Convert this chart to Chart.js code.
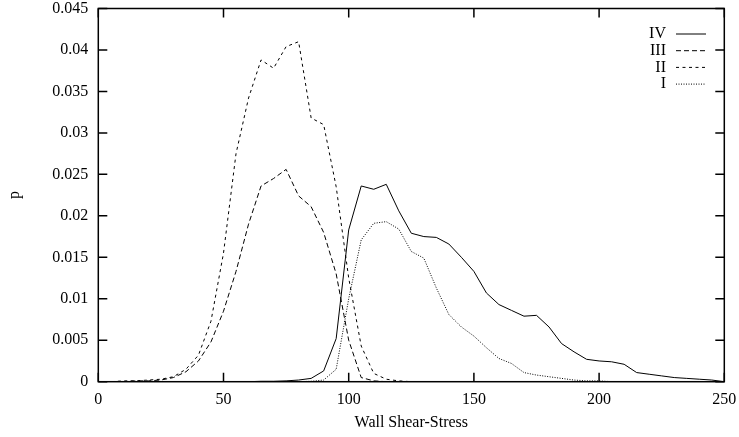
<!DOCTYPE html>
<html>
<head>
<meta charset="utf-8">
<script src="https://cdn.jsdelivr.net/npm/chart.js@4"></script>
<style>
  html, body { margin: 0; padding: 0; background: #fff; }
  #wrap { width: 739px; height: 437px; }
</style>
</head>
<body>
<div id="wrap"><canvas id="wssChart"></canvas></div>
<script>
// wall shear-stress bins
const stress = [0, 5, 10, 15, 20, 25, 30, 35, 40, 45, 50, 55, 60, 65, 70, 75, 80, 85, 90, 95,
  100, 105, 110, 115, 120, 125, 130, 135, 140, 145, 150, 155, 160, 165, 170, 175, 180, 185, 190, 195,
  200, 205, 210, 215, 220, 225, 230, 235, 240, 245, 250]

const seriesIV = [0, 0, 0, 0, 0, 0, 0, 0, 0, 0, 0, 0, 0, 0.00005, 0.00005, 0.0001, 0.0002, 0.0004, 0.0013, 0.0052,
  0.0183, 0.0236, 0.0232, 0.0238, 0.0206, 0.0179, 0.0175, 0.0174, 0.0166, 0.015, 0.0133, 0.0107, 0.0093, 0.0086, 0.0079, 0.008, 0.0066, 0.0046, 0.0036, 0.0027,
  0.0025, 0.0024, 0.0021, 0.0011, 0.0009, 0.0007, 0.0005, 0.0004, 0.0003, 0.0002, 0]

const seriesIII = [0, 0, 0, 0.0001, 0.0001, 0.0002, 0.0005, 0.0012, 0.0025, 0.0048, 0.0085, 0.0133, 0.019, 0.0236, 0.0245, 0.0256, 0.0224, 0.0211, 0.018, 0.013,
  0.005, 0.0005, 0.0001, 0, 0, 0, 0, 0, 0, 0, 0, 0, 0, 0, 0, 0, 0, 0, 0, 0,
  0, 0, 0, 0, 0, 0, 0, 0, 0, 0, 0]

const seriesII = [0, 0, 0.0001, 0.0001, 0.0002, 0.0003, 0.0006, 0.0015, 0.0032, 0.0073, 0.0155, 0.0275, 0.0342, 0.0388, 0.0378, 0.0404, 0.041, 0.0318, 0.031, 0.0235,
  0.0125, 0.0043, 0.001, 0.0003, 0.0001, 0, 0, 0, 0, 0, 0, 0, 0, 0, 0, 0, 0, 0, 0, 0,
  0, 0, 0, 0, 0, 0, 0, 0, 0, 0, 0]

const seriesI = [0, 0, 0, 0, 0, 0, 0, 0, 0, 0, 0, 0, 0, 0, 0, 0, 0, 0.00005, 0.0002, 0.0015,
  0.01, 0.0171, 0.0191, 0.0193, 0.0184, 0.0157, 0.0149, 0.0113, 0.0081, 0.0066, 0.0055, 0.0041, 0.0028, 0.0022, 0.0011, 0.0008, 0.0006, 0.0004, 0.0002, 0.0001,
  0.0001, 0, 0, 0, 0, 0, 0, 0, 0, 0, 0]

const xTicks = [0, 50, 100, 150, 200, 250]
const yTicks = [0, 0.005, 0.01, 0.015, 0.02, 0.025, 0.03, 0.035, 0.04, 0.045]

const serif = "'Liberation Serif', 'DejaVu Serif', serif"

const toPoints = (ys) => ys.map((y, i) => ({ x: stress[i], y: y }))

// gnuplot-like frame with inward ticks on all four sides, plus the key
const framePlugin = {
  id: 'frame',
  afterDraw(chart) {
    const { ctx, chartArea: a, scales } = chart
    ctx.save()
    ctx.strokeStyle = '#000'
    ctx.lineWidth = 1.5
    ctx.strokeRect(a.left, a.top, a.right - a.left, a.bottom - a.top)
    const tl = 9
    ctx.beginPath()
    xTicks.forEach((v) => {
      const px = scales.x.getPixelForValue(v)
      ctx.moveTo(px, a.bottom); ctx.lineTo(px, a.bottom - tl)
      ctx.moveTo(px, a.top); ctx.lineTo(px, a.top + tl)
    })
    yTicks.forEach((v) => {
      const py = scales.y.getPixelForValue(v)
      ctx.moveTo(a.left, py); ctx.lineTo(a.left + tl, py)
      ctx.moveTo(a.right, py); ctx.lineTo(a.right - tl, py)
    })
    ctx.stroke()

    // key
    ctx.font = '16px ' + serif
    ctx.textAlign = 'right'
    ctx.textBaseline = 'middle'
    ctx.fillStyle = '#000'
    ctx.lineWidth = 1
    chart.data.datasets.forEach((ds, i) => {
      const y = 34 + i * 16.7
      ctx.fillText(ds.label, 666, y)
      ctx.setLineDash(ds.borderDash || [])
      ctx.beginPath()
      ctx.moveTo(676, y); ctx.lineTo(706, y)
      ctx.stroke()
    })
    ctx.restore()
  },
}

Chart.defaults.font.family = serif
Chart.defaults.font.size = 16
Chart.defaults.color = '#000'

new Chart(document.getElementById('wssChart'), {
  type: 'line',
  data: {
    datasets: [
      { label: 'IV', data: toPoints(seriesIV), borderDash: [] },
      { label: 'III', data: toPoints(seriesIII), borderDash: [5, 3] },
      { label: 'II', data: toPoints(seriesII), borderDash: [3, 3.5] },
      { label: 'I', data: toPoints(seriesI), borderDash: [1, 1.5] },
    ],
  },
  options: {
    responsive: true,
    maintainAspectRatio: false,
    animation: false,
    layout: { padding: { top: 8.5, right: 14.7, bottom: 0, left: 0 } },
    elements: {
      line: { borderColor: '#000', borderWidth: 1, tension: 0, fill: false },
      point: { radius: 0 },
    },
    plugins: {
      legend: { display: false },
      tooltip: { enabled: false },
    },
    scales: {
      x: {
        type: 'linear',
        min: 0,
        max: 250,
        afterBuildTicks: (s) => { s.ticks = xTicks.map((v) => ({ value: v })) },
        grid: { display: false, drawTicks: false },
        border: { display: false },
        ticks: { padding: 8, maxRotation: 0 },
        title: { display: true, text: 'Wall Shear-Stress', padding: { top: 0, bottom: 4.4 } },
        afterFit: (s) => {
          s.height = 55.3
          s.paddingLeft = 0
          s.paddingRight = 0
        },
      },
      y: {
        min: 0,
        max: 0.045,
        afterBuildTicks: (s) => { s.ticks = yTicks.map((v) => ({ value: v })) },
        grid: { display: false, drawTicks: false },
        border: { display: false },
        ticks: { padding: 10, callback: (v) => String(Number(v.toFixed(3))) },
        title: { display: true, text: 'p', padding: { top: 5.4, bottom: 0 } },
        afterFit: (s) => {
          s.width = 98.3
          s.paddingTop = 0
          s.paddingBottom = 0
        },
      },
    },
  },
  plugins: [framePlugin],
})
</script>
</body>
</html>
